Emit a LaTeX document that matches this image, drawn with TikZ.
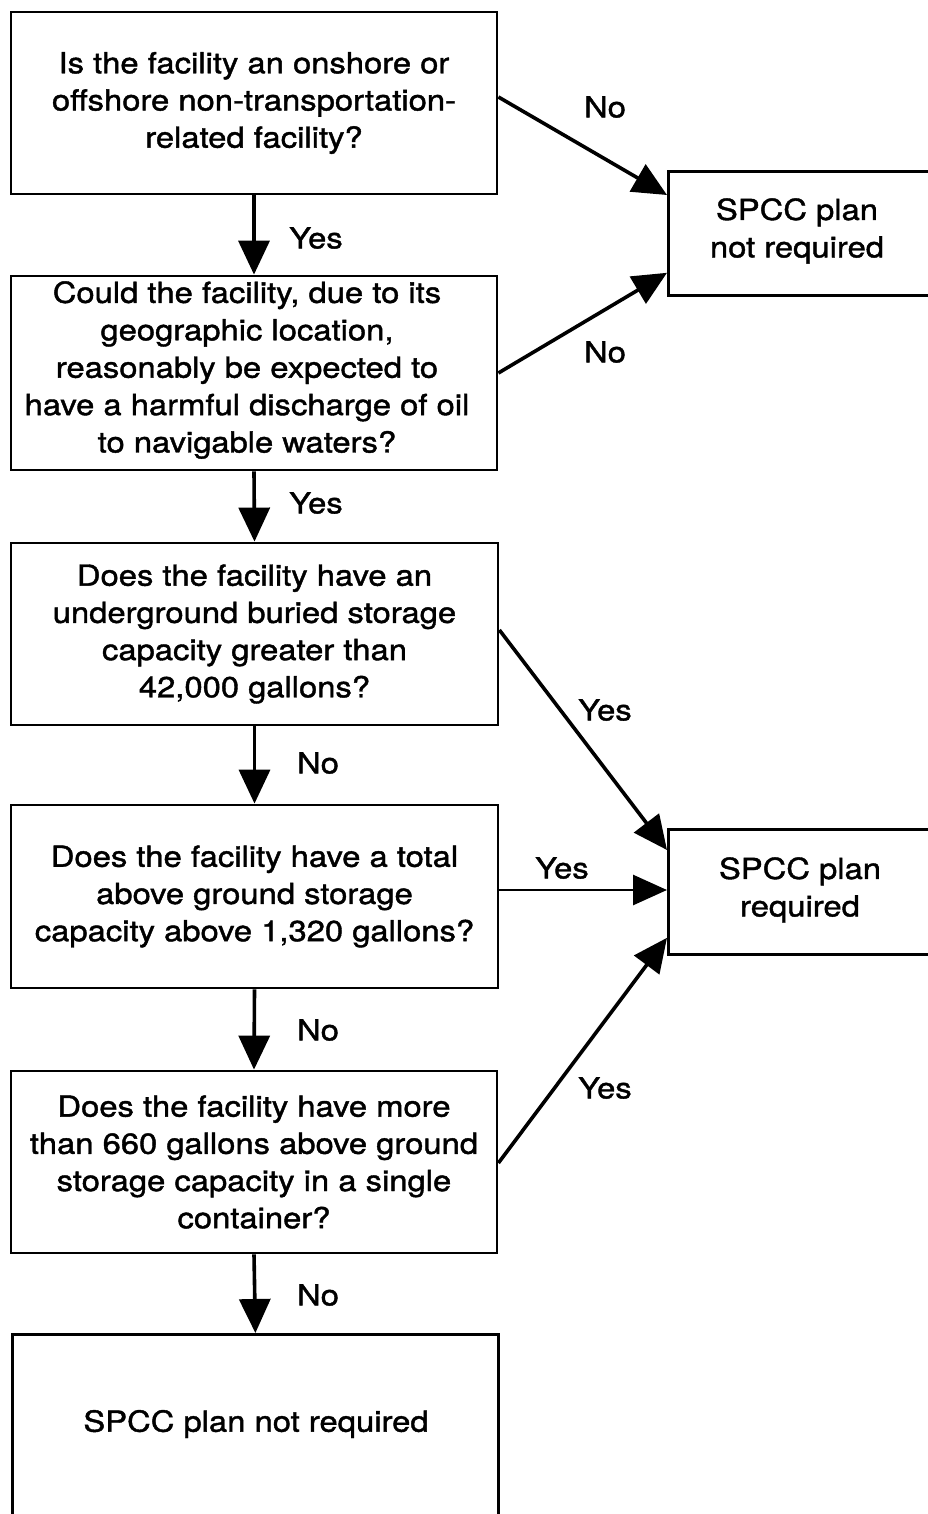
\documentclass[tikz,border=0pt]{standalone}
\usepackage{fontspec}
\setmainfont{TeX Gyre Heros}[FakeStretch=1.13, FakeBold=1.4]
\usetikzlibrary{arrows.meta}
\tikzset{
  box/.style={draw, line width=2.8pt, inner sep=0pt, align=center, font=\fontsize{29}{37.2}\selectfont},
  txt/.style={inner sep=0pt, align=center, font=\fontsize{29}{37.4}\selectfont},
  lbl/.style={inner sep=0pt, font=\fontsize{29}{32}\selectfont},
  arr/.style={line width=3.6pt, -{Triangle[length=34pt,width=31pt]}},
  harr/.style={line width=2.8pt, -{Triangle[length=34pt,width=30pt]}}
}
\begin{document}
\begin{tikzpicture}[x=1pt,y=-1pt]
\useasboundingbox (0,0) rectangle (928,1514);
\clip (0,0) rectangle (928,1514);
\fill[white] (0,0) rectangle (928,1514);

\node[box, minimum width=486, minimum height=182] (b1) at (254,103)
  {Is the facility an onshore or\\offshore non-transportation-\\related facility?};
\node[box, minimum width=486, minimum height=194] (b2) at (254,373) {};
\node[txt] (b2t) at (247,370)
  {Could the facility, due to its\\geographic location,\\reasonably be expected to\\have a harmful discharge of oil\\to navigable waters?};
\node[box, minimum width=487, minimum height=182] (b3) at (254.5,634)
  {Does the facility have an\\underground buried storage\\capacity greater than\\42,000 gallons?};
\node[box, minimum width=487, minimum height=183] (b4) at (254.5,896.5)
  {Does the facility have a total\\above ground storage\\capacity above 1,320 gallons?};
\node[box, minimum width=486, minimum height=182] (b5) at (254,1162)
  {Does the facility have more\\than 660 gallons above ground\\storage capacity in a single\\container?};
\node[box, minimum width=486, minimum height=220, anchor=north west] (b6) at (11,1333) {};
\node[txt] (b6t) at (256,1424) {SPCC plan not required};

\node[box, minimum width=290, minimum height=124, anchor=north west] (rA) at (667,170) {};
\node[txt] (rAt) at (797,231) {SPCC plan\\not required};
\node[box, minimum width=290, minimum height=125, anchor=north west] (rB) at (667,828) {};
\node[txt] (rBt) at (800,890) {SPCC plan\\required};

% vertical arrows
\draw[arr] (b1.south) -- (b2.north);
\draw[arr] (b2.south) -- (b3.north);
\draw[arr] (b3.south) -- (b4.north);
\draw[arr] (b4.south) -- (b5.north);
\draw[arr] (b5.south) -- (b6.north);

% diagonal arrows
\draw[arr] ([yshift=6pt]b1.east) -- ([yshift=-25pt]rA.north west);
\draw[arr] (b2.east) -- ([yshift=24pt]rA.south west);
\draw[arr] ([yshift=4pt]b3.east) -- ([yshift=-22pt]rB.north west);
\draw[harr] (b4.east |- rBt) -- (rB.west |- rBt);
\draw[arr] ([yshift=-1pt]b5.east) -- ([yshift=18pt]rB.south west);

% labels
\node[lbl] (l1) at (605,107) {No};
\node[lbl] (l2) at (605,352) {No};
\node[lbl] (l3) at (605,710) {Yes};
\node[lbl] (l4) at (562,868) {Yes};
\node[lbl] (l5) at (605,1088) {Yes};
\node[lbl] (v1) at (316,238) {Yes};
\node[lbl] (v2) at (316,503) {Yes};
\node[lbl] (v3) at (318,763) {No};
\node[lbl] (v4) at (318,1030) {No};
\node[lbl] (v5) at (318,1295) {No};
\end{tikzpicture}
\end{document}
